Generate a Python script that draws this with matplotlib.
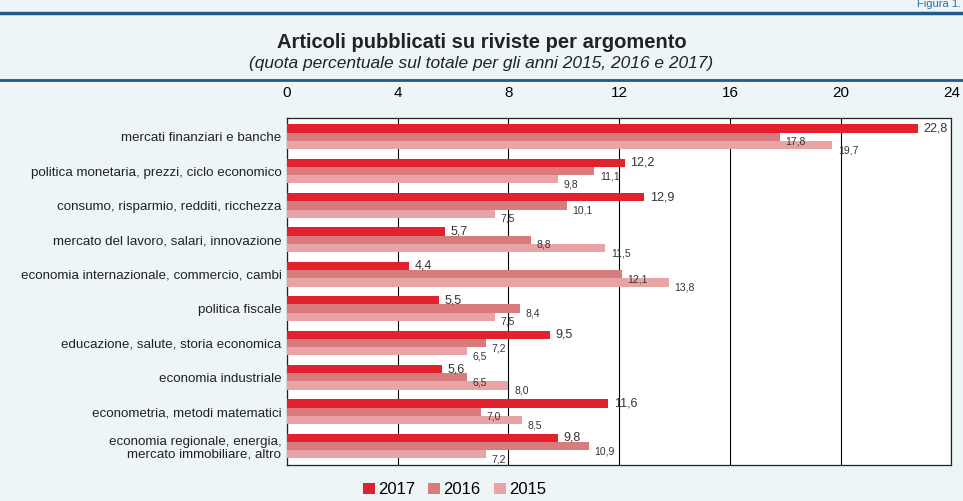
import numpy as np
import matplotlib.pyplot as plt

# Data
categories = [
    "mercati finanziari e banche",
    "politica monetaria, prezzi, ciclo economico",
    "consumo, risparmio, redditi, ricchezza",
    "mercato del lavoro, salari, innovazione",
    "economia internazionale, commercio, cambi",
    "politica fiscale",
    "educazione, salute, storia economica",
    "economia industriale",
    "econometria, metodi matematici",
    "economia regionale, energia,\nmercato immobiliare, altro",
]
y2017 = [22.8, 12.2, 12.9, 5.7, 4.4, 5.5, 9.5, 5.6, 11.6, 9.8]
y2016 = [17.8, 11.1, 10.1, 8.8, 12.1, 8.4, 7.2, 6.5, 7.0, 10.9]
y2015 = [19.7, 9.8, 7.5, 11.5, 13.8, 7.5, 6.5, 8.0, 8.5, 7.2]
years = ["2017", "2016", "2015"]
colors = ["#e3202e", "#d97a7c", "#e8a3a5"]

bg = "#edf5f6"
fig = plt.figure(figsize=(9.63, 5.01), dpi=100, facecolor=bg)
ax = fig.add_axes([0.298, 0.072, 0.690, 0.693])
ax.set_facecolor("white")

n = len(categories)
pos = np.arange(n)
h = 0.24
series = [y2017, y2016, y2015]
for i, (vals, c, yr) in enumerate(zip(series, colors, years)):
    yy = pos + (i - 1) * h
    ax.barh(yy, vals, height=h, color=c, label=yr, zorder=3)
    fs = 9 if i == 0 else 7.5
    for v, yv in zip(vals, yy):
        ax.text(v + 0.2, yv + (0.0 if i == 0 else 0.15), f"{v:.1f}".replace(".", ","),
                va="center", ha="left", fontsize=fs, color="#333333", zorder=4,
                family="Liberation Sans")

ax.set_xlim(0, 24)
ax.set_ylim(n - 0.5 + 0.05, -0.55)
ax.set_xticks([0, 4, 8, 12, 16, 20, 24])
ax.xaxis.tick_top()
ax.tick_params(axis="x", length=0, pad=13, labelsize=11)
ax.tick_params(axis="y", length=0, pad=4, labelsize=9.6)
ax.set_yticks(pos)
ax.set_yticklabels(categories, family="Liberation Sans", color="#222222", linespacing=1.15)
for lab in ax.get_xticklabels():
    lab.set_family("Liberation Sans")
ax.grid(axis="x", color="black", linewidth=0.8, zorder=1)
for s in ax.spines.values():
    s.set_color("#222222")
    s.set_linewidth(0.9)

# header
fig.add_artist(plt.Line2D([0, 1], [0.975, 0.975], color="#1f5b8c", linewidth=2.5))
fig.add_artist(plt.Line2D([0, 1], [0.84, 0.84], color="#1f5b8c", linewidth=2))
fig.text(0.998, 0.992, "Figura 1.", color="#2a6db0", fontsize=8, ha="right", va="center",
         family="Liberation Sans")
fig.text(0.5, 0.915, "Articoli pubblicati su riviste per argomento", ha="center", va="center",
         fontsize=14.5, fontweight="bold", color="#222222", family="Liberation Sans")
fig.text(0.5, 0.874, "(quota percentuale sul totale per gli anni 2015, 2016 e 2017)", ha="center",
         va="center", fontsize=12.5, style="italic", color="#222222", family="Liberation Sans")

leg = fig.legend(loc="center", bbox_to_anchor=(0.472, 0.022), ncol=3, frameon=False,
                 handlelength=0.7, handleheight=0.7, handletextpad=0.2, columnspacing=0.8,
                 prop={"family": "Liberation Sans", "size": 12})

fig.savefig("out.png", dpi=100, facecolor=bg)
